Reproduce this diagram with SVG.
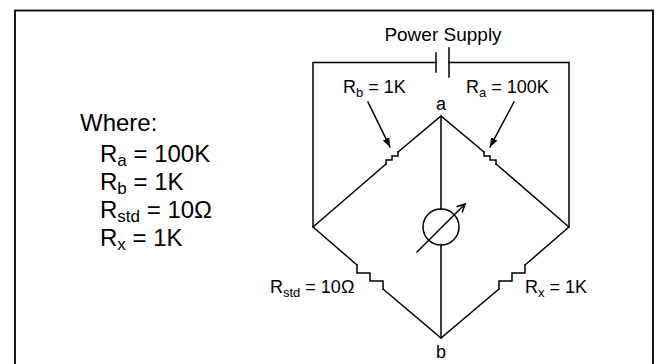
<svg xmlns="http://www.w3.org/2000/svg" width="656" height="364" viewBox="0 0 656 364">
<defs>
<style>
.w{fill:none;stroke:#000;stroke-width:1.5;stroke-linecap:square;stroke-linejoin:miter}
.t{font-family:"Liberation Sans",Arial,Helvetica,sans-serif;fill:#000}
.s{font-size:18px}
.l{font-size:24px}
</style>
<marker id="ah" viewBox="0 0 10 10" refX="10" refY="5" markerWidth="9" markerHeight="9" markerUnits="userSpaceOnUse" orient="auto">
<path d="M0,1 L10,5 L0,9 Z" fill="#000"/>
</marker>
<marker id="ao" viewBox="0 0 10 10" refX="9" refY="5" markerWidth="10" markerHeight="10" markerUnits="userSpaceOnUse" orient="auto">
<path d="M1,1 L9,5 L1,9" fill="none" stroke="#000" stroke-width="1.5"/>
</marker>
</defs>
<rect x="15" y="10.5" width="638" height="370" fill="#fff" stroke="#000" stroke-width="1.8"/>

<g id="connectors">
<path class="w" d="M436,62.5 H313 V227 L357,265"/>
<path class="w" d="M449,62.5 H569 V227 L525,265"/>
<path class="w" d="M313,227 L386,164"/>
<path class="w" d="M398,152 L441,116 L484,152"/>
<path class="w" d="M496,164 L569,227"/>
<path class="w" d="M383,289 L441,338 L499,289"/>
<path class="w" d="M441,116 V209 M441,245 V338"/>
<line class="w" x1="368" y1="102" x2="390" y2="147" marker-end="url(#ah)"/>
<line class="w" x1="514" y1="102" x2="490" y2="147" marker-end="url(#ah)"/>
</g>

<g id="battery">
<line class="w" x1="436" y1="53" x2="436" y2="72"/>
<line class="w" x1="449" y1="48" x2="449" y2="77"/>
</g>

<g id="Rb">
<path class="w" d="M386,164 V160 H392 V156 H398 V152"/>
</g>
<g id="Ra">
<path class="w" d="M484,152 V156 H490 V160 H496 V164"/>
</g>
<g id="Rstd">
<path class="w" d="M357,265 V273 H370 V281 H383 V289"/>
</g>
<g id="Rx">
<path class="w" d="M525,265 V273 H512 V281 H499 V289"/>
</g>

<g id="galvanometer">
<circle class="w" cx="441" cy="227" r="18"/>
<line class="w" x1="417" y1="252" x2="465" y2="204" marker-end="url(#ao)"/>
</g>

<g id="labels">
<text class="t" font-size="19" x="443" y="41" text-anchor="middle">Power Supply</text>
<text class="t s" x="441" y="110" text-anchor="middle">a</text>
<text class="t s" x="441" y="358" text-anchor="middle">b</text>
<text class="t s" x="343" y="93">R<tspan font-size="13" dy="4">b</tspan><tspan dy="-4"> = 1K</tspan></text>
<text class="t s" x="466" y="93">R<tspan font-size="13" dy="4">a</tspan><tspan dy="-4"> = 100K</tspan></text>
<text class="t s" x="270" y="293">R<tspan font-size="13" dy="4">std</tspan><tspan dy="-4"> = 10Ω</tspan></text>
<text class="t s" x="525" y="293">R<tspan font-size="13" dy="4">x</tspan><tspan dy="-4"> = 1K</tspan></text>
</g>

<g id="legend">
<text class="t l" x="80" y="131">Where:</text>
<text class="t l" x="100" y="162">R<tspan font-size="17" dy="4">a</tspan><tspan dy="-4"> = 100K</tspan></text>
<text class="t l" x="100" y="190">R<tspan font-size="17" dy="4">b</tspan><tspan dy="-4"> = 1K</tspan></text>
<text class="t l" x="100" y="218">R<tspan font-size="17" dy="4">std</tspan><tspan dy="-4"> = 10Ω</tspan></text>
<text class="t l" x="100" y="246">R<tspan font-size="17" dy="4">x</tspan><tspan dy="-4"> = 1K</tspan></text>
</g>
</svg>
